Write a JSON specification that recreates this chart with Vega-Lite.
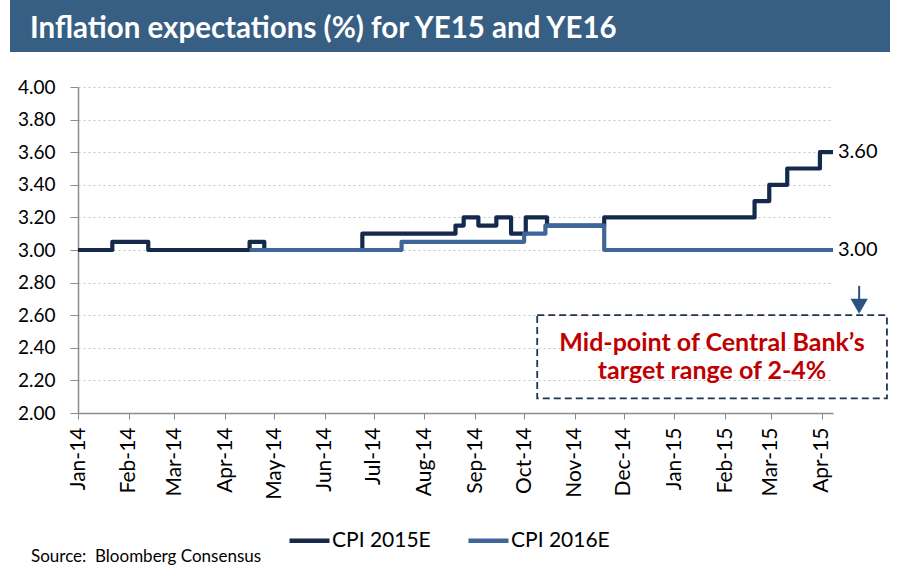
{
  "$schema": "https://vega.github.io/schema/vega-lite/v6.json",
  "padding": {"left": 10, "top": 0, "right": 5, "bottom": 2},
  "background": "white",
  "spacing": 26,
  "config": {
    "font": "Lato",
    "view": {"stroke": null}
  },
  "datasets": {
    "cpi": [
      {"series": "CPI 2015E", "date": "2014/01/01", "value": 3.00},
      {"series": "CPI 2015E", "date": "2014/01/22", "value": 3.05},
      {"series": "CPI 2015E", "date": "2014/02/13", "value": 3.00},
      {"series": "CPI 2015E", "date": "2014/04/16", "value": 3.05},
      {"series": "CPI 2015E", "date": "2014/04/25", "value": 3.00},
      {"series": "CPI 2015E", "date": "2014/06/24", "value": 3.10},
      {"series": "CPI 2015E", "date": "2014/08/20", "value": 3.15},
      {"series": "CPI 2015E", "date": "2014/08/25", "value": 3.20},
      {"series": "CPI 2015E", "date": "2014/09/03", "value": 3.15},
      {"series": "CPI 2015E", "date": "2014/09/14", "value": 3.20},
      {"series": "CPI 2015E", "date": "2014/09/23", "value": 3.10},
      {"series": "CPI 2015E", "date": "2014/10/02", "value": 3.20},
      {"series": "CPI 2015E", "date": "2014/10/15", "value": 3.15},
      {"series": "CPI 2015E", "date": "2014/11/19", "value": 3.20},
      {"series": "CPI 2015E", "date": "2015/02/19", "value": 3.30},
      {"series": "CPI 2015E", "date": "2015/02/28", "value": 3.40},
      {"series": "CPI 2015E", "date": "2015/03/11", "value": 3.50},
      {"series": "CPI 2015E", "date": "2015/03/31", "value": 3.60},
      {"series": "CPI 2015E", "date": "2015/04/08", "value": 3.60},
      {"series": "CPI 2016E", "date": "2014/04/16", "value": 3.00},
      {"series": "CPI 2016E", "date": "2014/07/18", "value": 3.05},
      {"series": "CPI 2016E", "date": "2014/10/01", "value": 3.10},
      {"series": "CPI 2016E", "date": "2014/10/14", "value": 3.15},
      {"series": "CPI 2016E", "date": "2014/11/19", "value": 3.00},
      {"series": "CPI 2016E", "date": "2015/04/08", "value": 3.00}
    ],
    "endlabels": [
      {"date": "2015/04/08", "value": 3.60, "label": "3.60"},
      {"date": "2015/04/08", "value": 3.00, "label": "3.00"}
    ],
    "note": [
      {"t": "Mid-point of Central Bank\u2019s", "v": 2.431},
      {"t": "target range of 2-4%", "v": 2.258}
    ]
  },
  "vconcat": [
    {
      "width": 880,
      "height": 52,
      "view": {"fill": "#375e83", "stroke": null},
      "title": {
        "text": "Inflation expectations (%) for YE15 and YE16",
        "anchor": "start",
        "frame": "group",
        "orient": "top",
        "offset": -44,
        "dx": 20,
        "color": "white",
        "font": "Lato",
        "fontSize": 29.5,
        "fontWeight": "bold"
      },
      "data": {"values": [{"t": ""}]},
      "mark": {"type": "text", "opacity": 0},
      "encoding": {"text": {"field": "t"}}
    },
    {
      "spacing": 0,
      "hconcat": [
        {
          "width": 1,
          "height": 326,
          "data": {"values": [{"t": ""}]},
          "mark": {"type": "text", "opacity": 0},
          "encoding": {"text": {"field": "t"}}
        },
        {
          "width": 755,
          "height": 326,
          "title": {
            "text": "Source:\u00a0 Bloomberg Consensus",
            "orient": "bottom",
            "anchor": "start",
            "frame": "bounds",
            "dx": 20,
            "offset": 50,
            "font": "Lato",
            "fontSize": 17,
            "fontWeight": "normal",
            "color": "#000000"
          },
          "layer": [
            {
              "data": {"name": "cpi"},
              "mark": {"type": "line", "interpolate": "step-after", "strokeWidth": 4.2, "strokeJoin": "round"},
              "encoding": {
                "x": {
                  "field": "date",
                  "type": "temporal",
                  "scale": {"domain": [{"year": 2014, "month": 1, "date": 1}, {"year": 2015, "month": 4, "date": 8}]},
                  "axis": {
                    "title": null,
                    "format": "%b-%y",
                    "values": [
                      {"year": 2014, "month": 1, "date": 1}, {"year": 2014, "month": 2, "date": 1},
                      {"year": 2014, "month": 3, "date": 1}, {"year": 2014, "month": 4, "date": 1},
                      {"year": 2014, "month": 5, "date": 1}, {"year": 2014, "month": 6, "date": 1},
                      {"year": 2014, "month": 7, "date": 1}, {"year": 2014, "month": 8, "date": 1},
                      {"year": 2014, "month": 9, "date": 1}, {"year": 2014, "month": 10, "date": 1},
                      {"year": 2014, "month": 11, "date": 1}, {"year": 2014, "month": 12, "date": 1},
                      {"year": 2015, "month": 1, "date": 1}, {"year": 2015, "month": 2, "date": 1},
                      {"year": 2015, "month": 3, "date": 1}, {"year": 2015, "month": 4, "date": 1}
                    ],
                    "tickCount": 40,
                    "labelAngle": -90,
                    "labelFontSize": 21,
                    "labelColor": "#000000",
                    "labelPadding": 8,
                    "labelFont": "Lato",
                    "tickSize": 6,
                    "tickColor": "#8c8c8c",
                    "domainColor": "#8c8c8c",
                    "domainWidth": 1.5,
                    "grid": false,
                    "labelOverlap": false
                  }
                },
                "y": {
                  "field": "value",
                  "type": "quantitative",
                  "scale": {"domain": [2, 4], "zero": false, "nice": false},
                  "axis": {
                    "title": null,
                    "values": [2.0, 2.2, 2.4, 2.6, 2.8, 3.0, 3.2, 3.4, 3.6, 3.8, 4.0],
                    "tickCount": 30,
                    "format": ".2f",
                    "labelFontSize": 19,
                    "labelColor": "#000000",
                    "labelFont": "Lato",
                    "labelPadding": 15,
                    "labelOverlap": false,
                    "tickSize": 8,
                    "tickColor": "#8c8c8c",
                    "domainColor": "#8c8c8c",
                    "domainWidth": 1.5,
                    "grid": true,
                    "gridColor": "#c4c4c4",
                    "gridDash": [2, 3],
                    "gridWidth": 1,
                    "minExtent": 67
                  }
                },
                "color": {
                  "field": "series",
                  "type": "nominal",
                  "scale": {"domain": ["CPI 2015E", "CPI 2016E"], "range": ["#14294b", "#3e6799"]},
                  "legend": {
                    "title": null,
                    "orient": "none",
                    "direction": "horizontal",
                    "legendX": 277,
                    "legendY": 518,
                    "symbolType": "stroke",
                    "symbolSize": 1600,
                    "symbolStrokeWidth": 4.5,
                    "labelFontSize": 21,
                    "labelFont": "Lato",
                    "labelColor": "#000000",
                    "labelOffset": 0,
                    "columnPadding": 28
                  }
                }
              }
            },
            {
              "data": {"name": "endlabels"},
              "mark": {"type": "text", "align": "left", "baseline": "middle", "dx": 5, "fontSize": 20, "font": "Lato", "color": "#000000"},
              "encoding": {
                "x": {"field": "date", "type": "temporal"},
                "y": {"field": "value", "type": "quantitative"},
                "text": {"field": "label"}
              }
            },
            {
              "data": {"values": [{}]},
              "mark": {"type": "rect", "fill": null, "fillOpacity": 0, "stroke": "#1f3553", "strokeWidth": 1.8, "strokeDash": [7, 4]},
              "encoding": {
                "x": {"datum": {"year": 2014, "month": 10, "date": 9}, "type": "temporal"},
                "x2": {"datum": {"year": 2015, "month": 5, "date": 11}},
                "y": {"datum": 2.60, "type": "quantitative"},
                "y2": {"datum": 2.09}
              }
            },
            {
              "data": {"name": "note"},
              "mark": {"type": "text", "align": "center", "baseline": "middle", "fontSize": 25, "fontWeight": "bold", "font": "Lato", "color": "#c00000"},
              "encoding": {
                "x": {"datum": {"year": 2015, "month": 1, "date": 24}, "type": "temporal"},
                "y": {"field": "v", "type": "quantitative"},
                "text": {"field": "t"}
              }
            },
            {
              "data": {"values": [{}]},
              "mark": {"type": "rule", "stroke": "#2b5280", "strokeWidth": 2},
              "encoding": {
                "x": {"datum": {"year": 2015, "month": 4, "date": 24}, "type": "temporal"},
                "y": {"datum": 2.78, "type": "quantitative"},
                "y2": {"datum": 2.68}
              }
            },
            {
              "data": {"values": [{}]},
              "mark": {"type": "point", "shape": "triangle-down", "filled": true, "size": 300, "color": "#2b5280", "opacity": 1},
              "encoding": {
                "x": {"datum": {"year": 2015, "month": 4, "date": 24}, "type": "temporal"},
                "y": {"datum": 2.655, "type": "quantitative"}
              }
            }
          ]
        }
      ]
    }
  ]
}
